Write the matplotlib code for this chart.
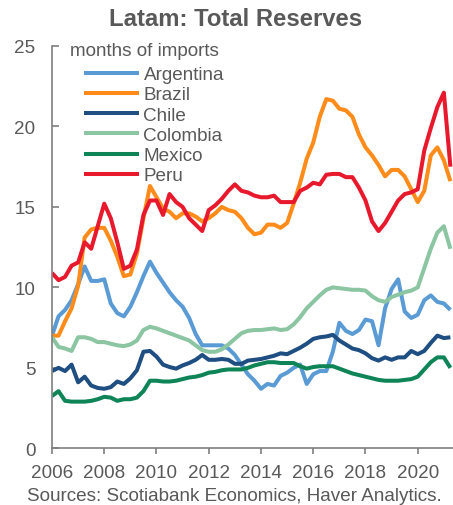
import numpy as np
import matplotlib.pyplot as plt

plt.rcParams['font.family'] = ['Liberation Sans', 'DejaVu Sans']

# quarterly, 2006Q1 .. 2021Q2
quarters = np.arange(2006, 2021.5, 0.25)

argentina = [7.0, 8.2, 8.6, 9.2, 10.2, 11.3, 10.4, 10.4, 10.5, 9.0, 8.4, 8.2, 8.8, 9.7, 10.7, 11.6,
             10.9, 10.3, 9.7, 9.2, 8.8, 8.1, 7.1, 6.4, 6.4, 6.4, 6.4, 6.2, 5.8, 5.2, 4.6, 4.2,
             3.7, 4.0, 3.9, 4.5, 4.7, 5.0, 5.2, 4.0, 4.6, 4.8, 4.8, 6.0, 7.8, 7.3, 7.1, 7.35,
             8.0, 7.9, 6.4, 8.7, 9.9, 10.5, 8.5, 8.1, 8.3, 9.2, 9.5, 9.1, 9.0, 8.6]
brazil = [7.0, 7.0, 7.9, 8.7, 10.1, 13.1, 13.6, 13.7, 13.7, 12.9, 11.9, 10.7, 10.8, 12.1, 14.3, 16.3,
          15.6, 14.9, 14.7, 14.3, 14.6, 14.6, 14.4, 14.1, 14.3, 14.6, 15.0, 14.8, 14.7, 14.3, 13.7, 13.3,
          13.4, 13.9, 13.9, 13.7, 14.0, 15.2, 16.5, 18.0, 19.0, 20.6, 21.7, 21.6, 21.1, 21.0, 20.6, 19.5,
          18.7, 18.2, 17.6, 16.9, 17.3, 17.3, 16.9, 16.1, 15.3, 16.0, 18.2, 18.7, 17.9, 16.6]
chile = [4.8, 5.0, 4.8, 5.2, 4.1, 4.45, 3.9, 3.75, 3.7, 3.8, 4.15, 4.0, 4.35, 4.85, 6.0, 6.05,
         5.7, 5.2, 5.05, 4.95, 5.15, 5.3, 5.5, 5.8, 5.5, 5.5, 5.55, 5.5, 5.25, 5.25, 5.45, 5.5,
         5.55, 5.65, 5.75, 5.9, 5.85, 6.05, 6.25, 6.5, 6.8, 6.9, 6.95, 7.05, 6.7, 6.45, 6.2, 6.1,
         5.9, 5.6, 5.45, 5.65, 5.5, 5.65, 5.65, 6.05, 5.85, 6.05, 6.55, 7.0, 6.85, 6.9]
colombia = [6.9, 6.3, 6.2, 6.05, 6.9, 6.9, 6.8, 6.6, 6.6, 6.5, 6.4, 6.35, 6.45, 6.7, 7.35, 7.55,
            7.45, 7.3, 7.15, 7.0, 6.85, 6.7, 6.4, 6.1, 6.0, 6.0, 6.15, 6.45, 6.8, 7.15, 7.3, 7.35,
            7.35, 7.4, 7.45, 7.35, 7.4, 7.7, 8.15, 8.7, 9.1, 9.5, 9.85, 10.0, 9.95, 9.9, 9.85, 9.85,
            9.8, 9.45, 9.2, 9.1, 9.4, 9.55, 9.7, 9.8, 10.0, 11.2, 12.4, 13.4, 13.8, 12.4]
mexico = [3.25, 3.55, 2.95, 2.9, 2.9, 2.9, 2.95, 3.05, 3.2, 3.15, 2.95, 3.05, 3.05, 3.15, 3.55, 4.2,
          4.2, 4.15, 4.15, 4.2, 4.3, 4.4, 4.45, 4.55, 4.7, 4.75, 4.85, 4.9, 4.9, 4.9, 5.0, 5.15,
          5.25, 5.35, 5.35, 5.3, 5.3, 5.3, 5.1, 4.95, 5.05, 5.1, 5.1, 5.1, 4.95, 4.8, 4.65, 4.55,
          4.45, 4.35, 4.25, 4.2, 4.2, 4.2, 4.25, 4.3, 4.45, 4.9, 5.35, 5.65, 5.65, 5.0]
peru = [10.9, 10.45, 10.65, 11.35, 11.55, 12.8, 12.4, 13.8, 15.2, 14.3, 12.8, 11.15, 11.35, 12.35, 14.5, 15.4,
        15.4, 14.5, 15.8, 15.3, 15.0, 14.3, 13.9, 13.5, 14.8, 15.1, 15.5, 16.0, 16.4, 16.0, 15.9, 15.7,
        15.6, 15.6, 15.7, 15.3, 15.3, 15.3, 16.0, 16.2, 16.5, 16.4, 17.0, 17.05, 17.05, 16.85, 16.85, 16.2,
        15.4, 14.1, 13.5, 14.0, 14.7, 15.4, 15.8, 15.9, 16.1, 18.5, 19.9, 21.2, 22.1, 17.5]

countries = ['Argentina', 'Brazil', 'Chile', 'Colombia', 'Mexico', 'Peru']
series = [argentina, brazil, chile, colombia, mexico, peru]
colors = ['#5B9BD5', '#FF8C1A', '#1F4E82', '#8CC5A1', '#0E8457', '#E8192C']

grey = '#595959'
fs = 13.6

fig = plt.figure(figsize=(4.53, 5.06), dpi=100)
ax = fig.add_axes([52 / 453, 1 - 449.3 / 506, 1 - 52 / 453, (449.3 - 47) / 506])

for name, vals, c in zip(countries, series, colors):
    ax.plot(quarters, vals, color=c, lw=2.9, label=name, solid_capstyle='butt')

ax.set_xlim(2006, 2021.35)
ax.set_ylim(0, 25)
ax.set_xticks(range(2006, 2021, 2))
ax.set_yticks(range(0, 26, 5))

for s in ['top', 'right']:
    ax.spines[s].set_visible(False)
for s in ['left', 'bottom']:
    ax.spines[s].set_color('#7f7f7f')
    ax.spines[s].set_linewidth(1.2)

ax.tick_params(axis='y', direction='in', length=5, width=1.2, color='#7f7f7f',
               labelsize=fs, labelcolor=grey, pad=12)
ax.tick_params(axis='x', direction='out', length=4, width=1.2, color='#7f7f7f',
               labelsize=fs, labelcolor=grey, pad=7.5)

fig.text(236 / 453, 1 - 20 / 506, 'Latam: Total Reserves', ha='center', va='center',
         fontsize=17.2, fontweight='bold', color=grey)
fig.text(70 / 453, 1 - 52 / 506, 'months of imports', ha='left', va='center',
         fontsize=fs, color=grey)

ax.legend(loc='upper left', bbox_to_anchor=(84 / 453, 1 - 67 / 506),
          bbox_transform=fig.transFigure, frameon=False, fontsize=fs,
          handlelength=2.9, handletextpad=0.25, labelspacing=0.16,
          borderpad=0, borderaxespad=0, labelcolor=grey)

fig.text(27 / 453, 1 - 497 / 506, 'Sources: Scotiabank Economics, Haver Analytics.',
         ha='left', va='center', fontsize=13.6, color=grey)

fig.savefig('out.png', dpi=100)
